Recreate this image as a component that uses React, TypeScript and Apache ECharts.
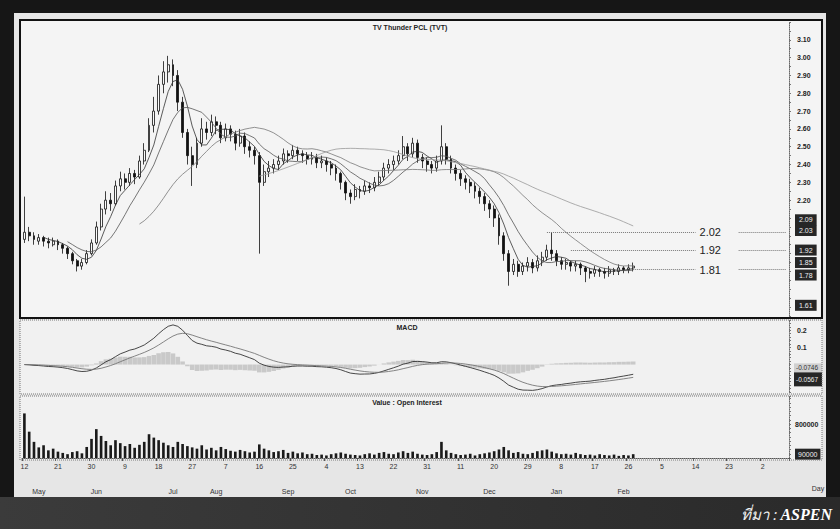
import React, { useEffect, useRef } from "react";
import * as echarts from "echarts";

// ---- data ----
// candle: [open, close, low, high]
const candles: number[][] = [
  [1.98, 2.02, 1.96, 2.22], [2.02, 2.0, 1.97, 2.05], [2.0, 1.98, 1.95, 2.02], [1.97, 1.99, 1.95, 2.01],
  [1.99, 1.97, 1.94, 2.0], [1.97, 1.96, 1.93, 1.99], [1.95, 1.97, 1.94, 1.99], [1.97, 1.95, 1.92, 1.98],
  [1.95, 1.93, 1.9, 1.96], [1.93, 1.9, 1.87, 1.94], [1.9, 1.86, 1.84, 1.91], [1.86, 1.83, 1.8, 1.87],
  [1.83, 1.85, 1.81, 1.87], [1.85, 1.9, 1.84, 1.92], [1.9, 1.96, 1.89, 1.98], [1.96, 2.05, 1.95, 2.08],
  [2.05, 2.15, 2.03, 2.18], [2.15, 2.2, 2.12, 2.25], [2.2, 2.18, 2.14, 2.24], [2.18, 2.28, 2.17, 2.31],
  [2.28, 2.32, 2.25, 2.36], [2.32, 2.3, 2.26, 2.35], [2.3, 2.35, 2.28, 2.38], [2.35, 2.33, 2.29, 2.37],
  [2.33, 2.42, 2.32, 2.45], [2.42, 2.48, 2.4, 2.52], [2.48, 2.62, 2.47, 2.66], [2.62, 2.7, 2.58, 2.78],
  [2.7, 2.85, 2.68, 2.9], [2.85, 2.92, 2.8, 2.98], [2.92, 2.96, 2.86, 3.01], [2.96, 2.9, 2.84, 2.99],
  [2.9, 2.75, 2.7, 2.93], [2.75, 2.58, 2.55, 2.78], [2.58, 2.45, 2.4, 2.6], [2.45, 2.4, 2.28, 2.5],
  [2.4, 2.52, 2.38, 2.55], [2.52, 2.6, 2.5, 2.66], [2.6, 2.58, 2.54, 2.64], [2.58, 2.64, 2.56, 2.68],
  [2.64, 2.62, 2.57, 2.67], [2.62, 2.55, 2.52, 2.64], [2.55, 2.6, 2.53, 2.63], [2.6, 2.57, 2.53, 2.62],
  [2.57, 2.52, 2.48, 2.59], [2.52, 2.56, 2.5, 2.6], [2.56, 2.5, 2.46, 2.58], [2.5, 2.48, 2.44, 2.53],
  [2.48, 2.45, 2.4, 2.5], [2.45, 2.3, 1.9, 2.47], [2.3, 2.36, 2.28, 2.4], [2.36, 2.38, 2.33, 2.42],
  [2.38, 2.4, 2.35, 2.43], [2.4, 2.42, 2.37, 2.45], [2.42, 2.46, 2.4, 2.49], [2.46, 2.45, 2.41, 2.48],
  [2.45, 2.48, 2.43, 2.51], [2.48, 2.46, 2.42, 2.5], [2.46, 2.45, 2.41, 2.48], [2.45, 2.43, 2.4, 2.47],
  [2.43, 2.44, 2.4, 2.47], [2.44, 2.41, 2.38, 2.46], [2.41, 2.42, 2.38, 2.45], [2.42, 2.4, 2.36, 2.44],
  [2.4, 2.38, 2.34, 2.42], [2.38, 2.35, 2.31, 2.4], [2.35, 2.3, 2.26, 2.36], [2.3, 2.24, 2.2, 2.31],
  [2.24, 2.22, 2.18, 2.26], [2.22, 2.26, 2.2, 2.29], [2.26, 2.25, 2.21, 2.28], [2.25, 2.28, 2.23, 2.31],
  [2.28, 2.27, 2.24, 2.3], [2.27, 2.3, 2.25, 2.33], [2.3, 2.33, 2.28, 2.36], [2.33, 2.38, 2.31, 2.41],
  [2.38, 2.4, 2.35, 2.43], [2.4, 2.42, 2.37, 2.45], [2.42, 2.45, 2.4, 2.48], [2.45, 2.5, 2.43, 2.56],
  [2.5, 2.46, 2.42, 2.52], [2.46, 2.52, 2.44, 2.55], [2.52, 2.44, 2.41, 2.54], [2.44, 2.42, 2.38, 2.46],
  [2.42, 2.4, 2.36, 2.44], [2.4, 2.38, 2.35, 2.42], [2.38, 2.42, 2.36, 2.45], [2.42, 2.5, 2.4, 2.62],
  [2.5, 2.43, 2.4, 2.52], [2.43, 2.38, 2.35, 2.45], [2.38, 2.35, 2.31, 2.4], [2.35, 2.32, 2.28, 2.37],
  [2.32, 2.3, 2.26, 2.34], [2.3, 2.28, 2.24, 2.32], [2.28, 2.25, 2.21, 2.3], [2.25, 2.22, 2.18, 2.27],
  [2.22, 2.18, 2.14, 2.24], [2.18, 2.15, 2.1, 2.2], [2.15, 2.1, 2.05, 2.17], [2.1, 2.0, 1.95, 2.12],
  [2.0, 1.9, 1.86, 2.02], [1.9, 1.8, 1.72, 1.92], [1.8, 1.84, 1.78, 1.87], [1.84, 1.8, 1.77, 1.86],
  [1.8, 1.83, 1.78, 1.85], [1.83, 1.85, 1.8, 1.88], [1.85, 1.82, 1.79, 1.87], [1.82, 1.86, 1.8, 1.89],
  [1.86, 1.88, 1.83, 1.91], [1.88, 1.92, 1.86, 1.95], [1.92, 1.9, 1.86, 2.02], [1.9, 1.86, 1.83, 1.92],
  [1.86, 1.84, 1.81, 1.88], [1.84, 1.85, 1.81, 1.87], [1.85, 1.83, 1.8, 1.86], [1.83, 1.84, 1.8, 1.86],
  [1.84, 1.82, 1.78, 1.85], [1.82, 1.8, 1.74, 1.83], [1.8, 1.79, 1.76, 1.82], [1.79, 1.81, 1.77, 1.83],
  [1.81, 1.8, 1.77, 1.82], [1.8, 1.79, 1.76, 1.82], [1.79, 1.81, 1.77, 1.83], [1.81, 1.8, 1.78, 1.82],
  [1.8, 1.82, 1.78, 1.84], [1.82, 1.81, 1.79, 1.83], [1.81, 1.82, 1.79, 1.84], [1.82, 1.83, 1.8, 1.85],
];

const volumes: number[] = [
  1050000, 620000, 380000, 250000, 300000, 180000, 220000, 150000, 120000, 90000, 140000, 160000, 110000,
  260000, 450000, 680000, 520000, 400000, 300000, 420000, 350000, 280000, 330000, 240000, 310000, 380000,
  560000, 480000, 420000, 360000, 300000, 260000, 380000, 330000, 280000, 250000, 220000, 300000, 200000,
  240000, 180000, 260000, 210000, 170000, 150000, 190000, 160000, 130000, 150000, 320000, 220000, 180000,
  140000, 160000, 190000, 120000, 150000, 110000, 130000, 90000, 100000, 70000, 80000, 60000, 90000,
  110000, 130000, 100000, 80000, 70000, 60000, 90000, 110000, 80000, 120000, 140000, 100000, 90000,
  130000, 160000, 120000, 150000, 100000, 80000, 70000, 90000, 140000, 380000, 180000, 120000, 90000,
  70000, 80000, 100000, 60000, 90000, 110000, 130000, 160000, 200000, 260000, 180000, 120000, 140000,
  100000, 90000, 120000, 160000, 180000, 200000, 150000, 110000, 90000, 100000, 80000, 120000, 90000,
  70000, 80000, 60000, 90000, 70000, 60000, 80000, 50000, 70000, 60000, 90000,
];

// horizontal price levels written on the chart: [value, first candle index]
const priceLevels: [number, number][] = [
  [2.02, 109],
  [1.92, 114],
  [1.81, 127],
];
// dark price tags along the right axis
const priceTags: number[] = [2.09, 2.03, 1.92, 1.85, 1.78, 1.61];
const priceTickLabels = ["2.20", "2.30", "2.40", "2.50", "2.60", "2.70", "2.80", "2.90", "3.00", "3.10"];
const macdTickLabels = ["0.1", "0.2"];
const volumeTickLabels = ["800000"];
const dayTicks: [number, string][] = [
  [0, "12"], [7, "21"], [14, "30"], [21, "9"], [28, "18"], [35, "27"], [42, "7"], [49, "16"],
  [56, "25"], [63, "4"], [70, "13"], [77, "22"], [84, "31"], [91, "11"], [98, "20"], [105, "29"],
  [112, "8"], [119, "17"], [126, "26"], [133, "5"], [140, "14"], [147, "23"], [154, "2"],
];
const monthTicks: [number, string][] = [
  [3, "May"], [15, "Jun"], [31, "Jul"], [40, "Aug"], [55, "Sep"], [68, "Oct"], [83, "Nov"],
  [97, "Dec"], [111, "Jan"], [125, "Feb"],
];
const maPeriods = [5, 10, 25, 50];
const TOTAL_SLOTS = 160;

// ---- derived indicators (from the read closes) ----
const closes = candles.map((c) => c[1]);
const categories = Array.from({ length: TOTAL_SLOTS }, (_, i) => "d" + i);

function sma(n: number) {
  return closes.map((_, i) => {
    if (i < n - 1) return "-";
    let s = 0;
    for (let k = i - n + 1; k <= i; k++) s += closes[k];
    return +(s / n).toFixed(4);
  });
}
function ema(vals: number[], n: number) {
  const k = 2 / (n + 1);
  const out: number[] = [];
  vals.forEach((v, i) => out.push(i === 0 ? v : v * k + out[i - 1] * (1 - k)));
  return out;
}
const e12 = ema(closes, 12);
const e26 = ema(closes, 26);
const macd = e12.map((v, i) => v - e26[i]);
const signal = ema(macd, 9);
const hist = macd.map((v, i) => v - signal[i]);

const dayMap = new Map(dayTicks);
const monthMap = new Map(monthTicks);

export default function App() {
  const ref = useRef<HTMLDivElement>(null);
  useEffect(() => {
    document.body.style.margin = "0";
    if (!ref.current) return;
    const chart = echarts.init(ref.current, null, { renderer: "svg" });
    const font = "Liberation Sans";
    const clear = "rgba(0,0,0,0)";

    const levelLines: any[] = [];
    priceLevels.forEach(([v, start]) => {
      levelLines.push([
        {
          coord: [categories[start], v],
          label: { show: true, position: "end", formatter: v.toFixed(2), fontSize: 11, color: "#222", distance: 4, fontFamily: font },
        },
        { coord: [categories[140], v] },
      ]);
      levelLines.push([{ coord: [categories[149], v], label: { show: false } }, { coord: [categories[159], v] }]);
    });
    priceTags.forEach((v) => {
      levelLines.push({
        yAxis: v,
        lineStyle: { color: clear, width: 0 },
        label: {
          show: true, position: "end", formatter: v.toFixed(2), fontSize: 7, color: "#eee",
          backgroundColor: "#262626", padding: [2, 4], distance: 6, fontFamily: font,
        },
      });
    });

    const lastMacd = macd[macd.length - 1];
    const lastSig = signal[signal.length - 1];
    const lastVol = volumes[volumes.length - 1];

    const option: any = {
      animation: false,
      backgroundColor: "#161616",
      grid: [
        { left: 22, right: 51, top: 22, height: 294 },
        { left: 22, right: 51, top: 320, height: 72 },
        { left: 22, right: 51, top: 396, height: 62 },
      ],
      xAxis: [
        { type: "category", data: categories, gridIndex: 0, boundaryGap: true, axisLine: { show: false }, axisTick: { show: false }, axisLabel: { show: false } },
        { type: "category", data: categories, gridIndex: 1, boundaryGap: true, axisLine: { show: false }, axisTick: { show: false }, axisLabel: { show: false } },
        {
          type: "category", data: categories, gridIndex: 2, boundaryGap: true,
          axisLine: { show: true, lineStyle: { color: "#555", type: "dotted" } },
          axisTick: { show: true, length: 3, lineStyle: { color: "#555" }, interval: (i: number) => dayMap.has(i) },
          axisLabel: {
            interval: 0, fontSize: 7, color: "#333", margin: 5, fontFamily: font,
            formatter: (_v: string, i: number) => dayMap.get(i) || "",
          },
        },
        {
          type: "category", data: categories, gridIndex: 2, boundaryGap: true, position: "bottom", offset: 22,
          axisLine: { show: false }, axisTick: { show: false },
          axisLabel: {
            interval: 0, fontSize: 7, color: "#333", fontFamily: font,
            formatter: (_v: string, i: number) => monthMap.get(i) || "",
          },
        },
      ],
      yAxis: [
        {
          type: "value", gridIndex: 0, position: "right", min: 1.55, max: 3.2, interval: 0.05,
          splitLine: { show: false },
          axisLine: { show: true, lineStyle: { color: "#666", type: "dotted" } },
          axisTick: { show: true, length: 2, lineStyle: { color: "#777" } },
          axisLabel: {
            fontSize: 7, fontWeight: "bold", color: "#222", margin: 8, fontFamily: font,
            formatter: (v: number) => { const s = v.toFixed(2); return priceTickLabels.includes(s) ? s : ""; },
          },
        },
        {
          type: "value", gridIndex: 1, position: "right", min: -0.16, max: 0.26, interval: 0.02,
          splitLine: { show: false },
          axisLine: { show: true, lineStyle: { color: "#666", type: "dotted" } },
          axisTick: { show: true, length: 2, lineStyle: { color: "#777" } },
          axisLabel: {
            fontSize: 7, fontWeight: "bold", color: "#222", margin: 8, fontFamily: font,
            formatter: (v: number) => { const s = String(+v.toFixed(2)); return macdTickLabels.includes(s) ? s : ""; },
          },
        },
        {
          type: "value", gridIndex: 2, position: "right", min: 0, max: 1460000, interval: 100000,
          splitLine: { show: false },
          axisLine: { show: true, lineStyle: { color: "#666", type: "dotted" } },
          axisTick: { show: true, length: 2, lineStyle: { color: "#777" } },
          axisLabel: {
            fontSize: 7, fontWeight: "bold", color: "#222", margin: 6, fontFamily: font,
            formatter: (v: number) => { const s = String(Math.round(v)); return volumeTickLabels.includes(s) ? s : ""; },
          },
        },
      ],
      series: [
        {
          type: "candlestick", xAxisIndex: 0, yAxisIndex: 0, data: candles, barMaxWidth: 3.4,
          itemStyle: { color: "#fafafa", color0: "#111", borderColor: "#111", borderColor0: "#111", borderWidth: 0.8 },
          markLine: {
            silent: true, symbol: ["none", "none"], animation: false,
            lineStyle: { color: "#777", type: "dotted", width: 1 },
            data: levelLines,
          },
        },
        ...maPeriods.map((p, i) => ({
          type: "line", xAxisIndex: 0, yAxisIndex: 0, data: sma(p), showSymbol: false, smooth: false,
          lineStyle: { width: 0.8, color: ["#333", "#555", "#777", "#999"][i] },
        })),
        {
          type: "bar", xAxisIndex: 1, yAxisIndex: 1, data: hist.map((v) => +v.toFixed(4)), barWidth: "95%",
          itemStyle: { color: "#c9c9c9" },
        },
        {
          type: "line", xAxisIndex: 1, yAxisIndex: 1, data: macd.map((v) => +v.toFixed(4)), showSymbol: false,
          lineStyle: { width: 0.9, color: "#333" },
          markLine: {
            silent: true, symbol: ["none", "none"], lineStyle: { color: clear, width: 0 },
            data: [
              {
                yAxis: +lastMacd.toFixed(4),
                label: {
                  show: true, position: "end", distance: 5,
                  formatter: `{l|${lastSig.toFixed(4)}}\n{d|${lastMacd.toFixed(4)}}`,
                  rich: {
                    l: { fontSize: 6.5, color: "#333", backgroundColor: "#d0d0d0", width: 24, height: 9, padding: [0, 2], fontFamily: font },
                    d: { fontSize: 6.5, color: "#eee", backgroundColor: "#262626", width: 24, height: 14, padding: [0, 2], fontFamily: font },
                  },
                },
              },
            ],
          },
        },
        {
          type: "line", xAxisIndex: 1, yAxisIndex: 1, data: signal.map((v) => +v.toFixed(4)), showSymbol: false,
          lineStyle: { width: 0.9, color: "#777" },
        },
        {
          type: "bar", xAxisIndex: 2, yAxisIndex: 2, data: volumes, barWidth: "55%", itemStyle: { color: "#1a1a1a" },
          markLine: {
            silent: true, symbol: ["none", "none"], lineStyle: { color: clear, width: 0 },
            data: [
              { yAxis: lastVol, label: { show: true, position: "end", formatter: String(lastVol), fontSize: 7, color: "#eee", backgroundColor: "#262626", padding: [2, 3], distance: 6, fontFamily: font } },
            ],
          },
        },
      ],
      graphic: [
        { type: "rect", z: -10, shape: { x: 14, y: 13, width: 812, height: 484 }, style: { fill: "#e6e6e6" } },
        { type: "rect", z: -9, shape: { x: 20, y: 20, width: 802, height: 298 }, style: { fill: "#f4f4f4" } },
        { type: "rect", z: -9, shape: { x: 20, y: 320, width: 802, height: 74 }, style: { fill: "#f1f1f1" } },
        { type: "rect", z: -9, shape: { x: 20, y: 396, width: 802, height: 64 }, style: { fill: "#f1f1f1" } },
        { type: "rect", z: 50, shape: { x: 20, y: 20, width: 802, height: 298 }, style: { fill: "none", stroke: "#111", lineWidth: 2 } },
        { type: "rect", z: 50, shape: { x: 20, y: 320, width: 802, height: 74 }, style: { fill: "none", stroke: "#777", lineWidth: 1, lineDash: [1, 1] } },
        { type: "rect", z: 50, shape: { x: 20, y: 396, width: 802, height: 64 }, style: { fill: "none", stroke: "#777", lineWidth: 1, lineDash: [1, 1] } },
        {
          type: "rect", z: -5, shape: { x: 0, y: 497, width: 840, height: 32 },
          style: { fill: new echarts.graphic.LinearGradient(0, 0, 1, 0, [{ offset: 0, color: "#3b3b3b" }, { offset: 1, color: "#2a2a2a" }]) },
        },
        { type: "text", z: 60, x: 410, y: 27, style: { text: "TV Thunder PCL (TVT)", fontSize: 7, fontWeight: "bold", fill: "#222", align: "center", verticalAlign: "middle", fontFamily: font } },
        { type: "text", z: 60, x: 407, y: 327, style: { text: "MACD", fontSize: 7, fontWeight: "bold", fill: "#222", align: "center", verticalAlign: "middle", fontFamily: font } },
        { type: "text", z: 60, x: 407, y: 402, style: { text: "Value : Open Interest", fontSize: 7, fontWeight: "bold", fill: "#222", align: "center", verticalAlign: "middle", fontFamily: font } },
        { type: "text", z: 60, x: 818, y: 488, style: { text: "Day", fontSize: 7, fill: "#333", align: "center", verticalAlign: "middle", fontFamily: font } },
        {
          type: "text", z: 60, x: 832, y: 514,
          style: {
            text: "{a|ที่มา :} {b|ASPEN}", align: "right", verticalAlign: "middle",
            rich: {
              a: { fontSize: 15, fontStyle: "italic", fill: "#f0f0f0", fontFamily: "Noto Sans, DejaVu Sans, sans-serif" },
              b: { fontSize: 16, fontStyle: "italic", fontWeight: "bold", fill: "#ffffff", fontFamily: "Liberation Serif, DejaVu Serif, serif" },
            },
          },
        },
      ],
    };
    chart.setOption(option);
    return () => chart.dispose();
  }, []);
  return <div ref={ref} style={{ width: 840, height: 529 }} />;
}
